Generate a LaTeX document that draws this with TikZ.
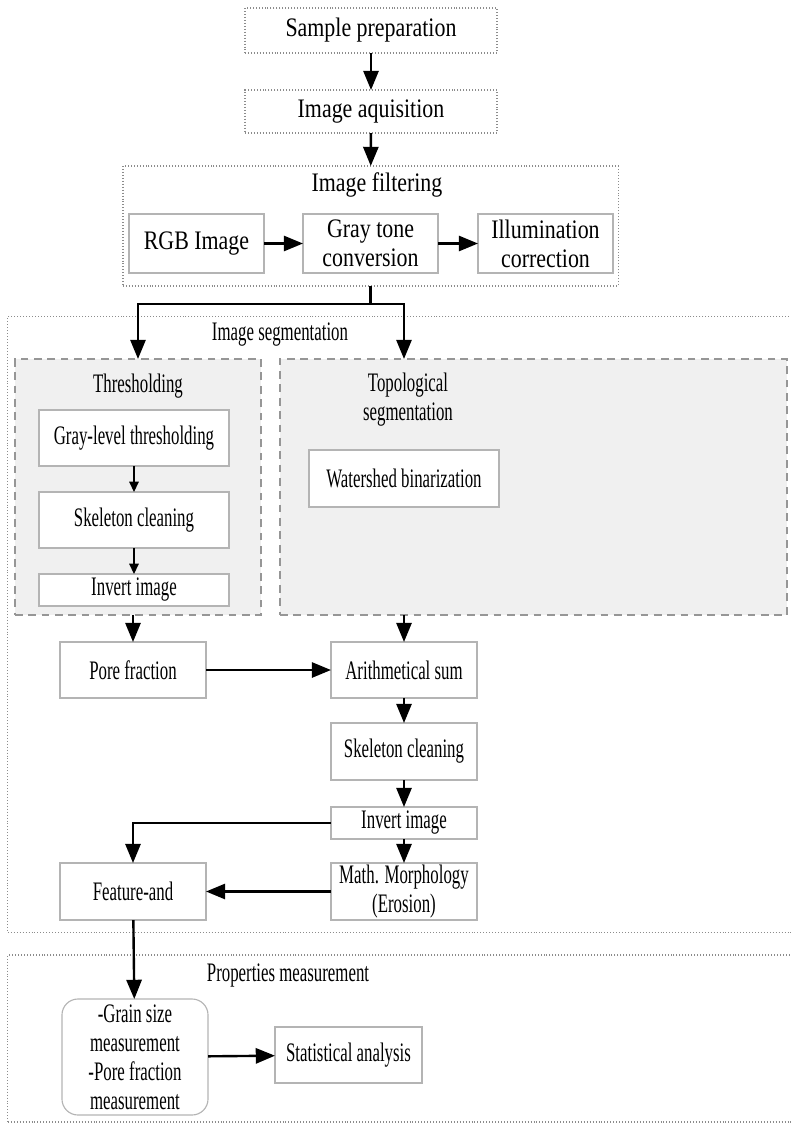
\documentclass[tikz,border=0pt]{standalone}
\usepackage{fontspec}
\setmainfont[FakeStretch=0.63]{Liberation Serif}
\newfontfamily\widefont[FakeStretch=0.82]{Liberation Serif}
\usepackage{tikz}
\usetikzlibrary{arrows.meta}
\definecolor{boxgray}{RGB}{180,180,180}
\definecolor{dashgray}{RGB}{150,150,150}
\definecolor{dotgray}{RGB}{140,140,140}
\definecolor{panel}{RGB}{240,240,240}

\begin{document}
\begin{tikzpicture}[x=0.025cm, y=-0.025cm, font=\fontsize{19}{20.6}\selectfont,
    every node/.style={outer sep=0pt, inner sep=1pt, align=center},
    box/.style={draw=boxgray, line width=0.8pt, fill=white},
    dotbox/.style={draw=dotgray, line width=0.8pt, dash pattern=on 0.7pt off 1.4pt},
    dashbox/.style={draw=dashgray, line width=1.4pt, fill=panel, dash pattern=on 5.5pt off 4pt},
    flow/.style={line width=1.7pt, -{Triangle[length=0.48cm, width=0.38cm]}},
    thinflow/.style={line width=0.8pt, -{Triangle[length=0.26cm, width=0.24cm]}}]
    \useasboundingbox (0,0) rectangle (790,1124);
    % top part
    \node[dotbox, minimum width=6.3cm, minimum height=1.125cm] (sample) at (371,30.5) {\widefont Sample preparation};
    \node[dotbox, minimum width=6.3cm, minimum height=1.075cm] (aquis) at (371,111.5) {\widefont Image aquisition};
    \node[dotbox, minimum width=12.375cm, minimum height=3cm] (filter) at (370.5,226) {};
    \node (filtertitle) at (377,185) {\widefont Image filtering};
    \node[box, minimum width=3.375cm, minimum height=1.475cm] (rgb) at (196.5,243.5) {\widefont RGB Image};
    \node[box, minimum width=3.375cm, minimum height=1.475cm] (gray) at (370.5,243.5) {\widefont Gray tone\\\widefont conversion};
    \node[box, minimum width=3.375cm, minimum height=1.475cm] (illum) at (545.5,243.5) {\widefont Illumination\\\widefont correction};
    % segmentation
    \node[dotbox, minimum width=19.675cm, minimum height=15.375cm] (seg) at (401.5,624.5) {};
    \node (segtitle) at (280,335) {Image segmentation};
    \node[dashbox, minimum width=6.15cm, minimum height=6.4cm] (thresh) at (138,487) {};
    \node[dashbox, minimum width=12.675cm, minimum height=6.4cm] (topo) at (533.5,487) {};
    \node (threshtitle) at (138,386) {Thresholding};
    \node (topotitle) at (408,400) {Topological\\segmentation};
    \node[box, minimum width=4.75cm, minimum height=1.4cm] (glt) at (134,438) {Gray-level thresholding};
    \node[box, minimum width=4.75cm, minimum height=1.4cm] (skela) at (134,520) {Skeleton cleaning};
    \node[box, minimum width=4.75cm, minimum height=0.8cm] (inva) at (134,590) {Invert image};
    \node[box, minimum width=4.75cm, minimum height=1.425cm] (water) at (404,478.5) {Watershed binarization};
    \node[box, minimum width=3.65cm, minimum height=1.4cm] (pore) at (133,670) {Pore fraction};
    \node[box, minimum width=3.65cm, minimum height=1.4cm] (arith) at (404,670) {Arithmetical sum};
    \node[box, minimum width=3.65cm, minimum height=1.425cm] (skelb) at (404,751.5) {Skeleton cleaning};
    \node[box, minimum width=3.65cm, minimum height=0.8cm] (invb) at (404,823) {Invert image};
    \node[box, minimum width=3.65cm, minimum height=1.425cm] (morph) at (404,891.5) {Math. Morphology\\(Erosion)};
    \node[box, minimum width=3.65cm, minimum height=1.425cm] (feat) at (133,891.5) {Feature-and};
    % measurement
    \node[dotbox, minimum width=19.675cm, minimum height=4.175cm] (prop) at (401.5,1038.5) {};
    \node (proptitle) at (288,975) {Properties measurement};
    \node[box, rounded corners=0.4cm, minimum width=3.65cm, minimum height=2.9cm] (grain) at (135,1057) {-Grain size\\measurement\\-Pore fraction\\measurement};
    \node[box, minimum width=3.675cm, minimum height=1.4cm] (stat) at (348.5,1055) {Statistical analysis};
    % connectors
    \coordinate (split) at (filter.south |- 0,304);
    \draw[flow] (sample) -- (aquis);
    \draw[flow] (aquis) -- (filter);
    \draw[flow] (rgb) -- (gray);
    \draw[flow] (gray) -- (illum);
    \draw[line width=1.7pt] (filter.south) -- (split);
    \draw[flow] (split) -| (thresh.north);
    \draw[flow] (split) -| (arith.north |- topo.north);
    \draw[thinflow] (glt) -- (skela);
    \draw[thinflow] (skela) -- (inva);
    \draw[flow] (pore.north |- thresh.south) -- (pore.north);
    \draw[flow] (arith.north |- topo.south) -- (arith.north);
    \draw[flow] (pore) -- (arith);
    \draw[flow] (arith) -- (skelb);
    \draw[flow] (skelb) -- (invb);
    \draw[flow] (invb) -- (morph);
    \draw[flow] (invb.west) -| (feat.north);
    \draw[flow] (morph) -- (feat);
    \draw[flow] (feat) -- (grain);
    \draw[flow] (grain) -- (stat);
\end{tikzpicture}
\end{document}
